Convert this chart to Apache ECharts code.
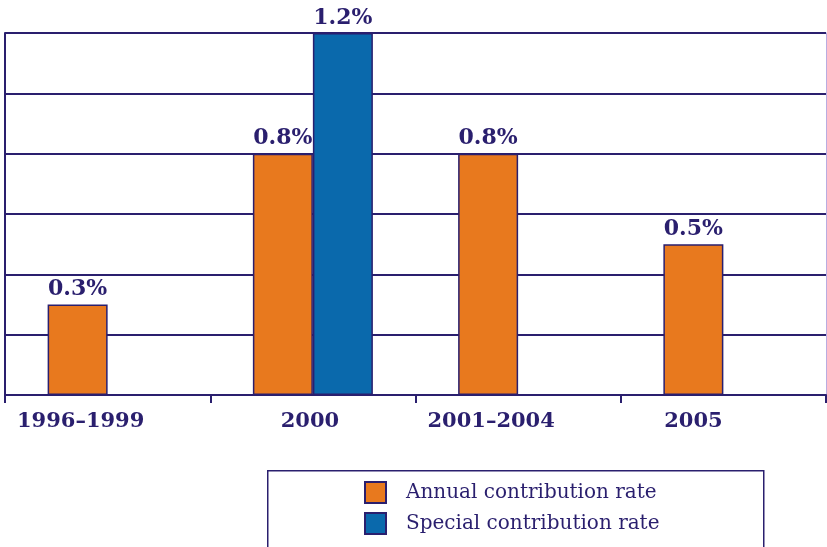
<!DOCTYPE html>
<html>
<head>
<meta charset="utf-8">
<script src="https://cdn.jsdelivr.net/npm/echarts@6/dist/echarts.min.js"></script>
<style>
html,body{margin:0;padding:0;background:#fff;}
#c{width:827px;height:547px;}
</style>
</head>
<body>
<div id="c"></div>
<script>
const categories = ['1996–1999', '2000', '2001–2004', '2005'];
const annualRate = [0.3, 0.8, 0.8, 0.5];
const specialRate = [null, 1.2, null, null];
const seriesNames = ['Annual contribution rate', 'Special contribution rate'];
const yMin = 0, yMax = 1.2, yStep = 0.2;

const navy = '#2a1f6e';
const orange = '#E8791E';
const blue = '#0A69AC';
const serif = '"DejaVu Serif", serif';

// labels sit under the visible bars: shift left when only the first bar is present
const labelShift = [54, 6, 54, 60];

const chart = echarts.init(document.getElementById('c'), null, {renderer: 'canvas'});
const labelCfg = {
  show: true, position: 'top', distance: 4,
  formatter: p => (p.value == null ? '' : p.value + '%'),
  fontFamily: serif, fontWeight: 'bold', fontSize: 22, color: navy
};
chart.setOption({
  animation: false,
  backgroundColor: '#fff',
  grid: {left: 5, right: 1, top: 33, bottom: 152, containLabel: false},
  xAxis: {
    type: 'category',
    data: categories.map((c, i) => ({value: c, textStyle: {padding: [0, labelShift[i], 0, 0]}})),
    boundaryGap: true,
    axisLine: {show: true, lineStyle: {color: navy, width: 2}},
    axisTick: {show: true, length: 8, lineStyle: {color: navy, width: 2}},
    axisLabel: {margin: 16, fontFamily: serif, fontWeight: 'bold', fontSize: 21, color: navy}
  },
  yAxis: [{
    type: 'value', min: yMin, max: yMax, interval: yStep,
    axisLine: {show: true, lineStyle: {color: navy, width: 2}},
    axisTick: {show: false}, axisLabel: {show: false},
    splitLine: {show: true, lineStyle: {color: navy, width: 2}}
  }, {
    type: 'value', min: yMin, max: yMax, interval: yStep, position: 'right',
    axisLine: {show: true, lineStyle: {color: '#b9ace0', width: 1}},
    axisTick: {show: false}, axisLabel: {show: false}, splitLine: {show: false}
  }],
  legend: {
    orient: 'vertical', left: 359, top: 476,
    itemWidth: 21, itemHeight: 21, itemGap: 8, icon: 'rect',
    data: seriesNames,
    textStyle: {fontFamily: serif, fontSize: 20, lineHeight: 21, color: navy, padding: [0, 0, 0, 15]}
  },
  graphic: [{
    type: 'rect', left: 267, top: 470, silent: true, z: -1,
    shape: {width: 496, height: 100},
    style: {fill: '#fff', stroke: navy, lineWidth: 1.5}
  }],
  series: [{
    name: seriesNames[0], type: 'bar', data: annualRate, barWidth: 60, barGap: '0%',
    itemStyle: {color: orange, borderColor: navy, borderWidth: 1.5},
    label: labelCfg
  }, {
    name: seriesNames[1], type: 'bar', data: specialRate, barWidth: 60, barGap: '0%',
    itemStyle: {color: blue, borderColor: navy, borderWidth: 1.5},
    label: labelCfg
  }]
});
</script>
</body>
</html>
